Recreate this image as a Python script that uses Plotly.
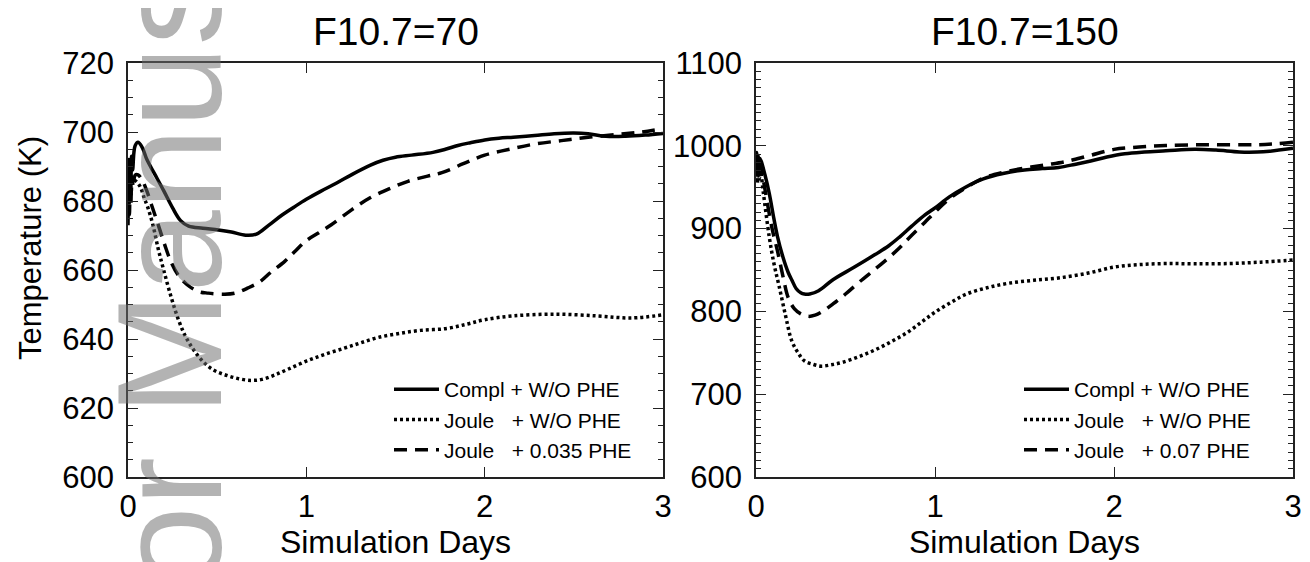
import plotly.graph_objects as go

# ---------------- data ----------------
# F10.7 = 70 panel
days_70_compl = [0, 0.004, 0.008, 0.012, 0.016, 0.02, 0.026, 0.033, 0.04, 0.056, 0.08, 0.106, 0.15, 0.2,
                 0.25, 0.295, 0.34, 0.42, 0.507, 0.58, 0.66, 0.72, 0.79, 0.86, 0.93, 1.0, 1.08, 1.17, 1.26, 1.36,
                 1.43, 1.5, 1.59, 1.71, 1.78, 1.85, 1.92, 2.0, 2.08, 2.16, 2.28, 2.39, 2.5, 2.58, 2.68, 2.79, 2.9, 3.0]
temp_70_compl = [686, 692, 681, 690, 684, 693, 689, 694, 696, 697, 695.5, 692, 687.8, 683, 678, 674.3, 672.7,
                 672.1, 671.6, 671.0, 670.1, 670.4, 673, 675.8, 678.2, 680.5, 682.8, 685.2, 687.8, 690.4, 691.8,
                 692.7, 693.3, 694.1, 695.0, 696.1, 696.9, 697.7, 698.2, 698.5, 699.0, 699.5, 699.7, 699.5, 698.75,
                 698.75, 699.1, 699.6]

days_70_joule = [0, 0.004, 0.008, 0.012, 0.018, 0.025, 0.035, 0.05, 0.07, 0.09, 0.112, 0.14, 0.17, 0.2, 0.24, 0.28,
                 0.32, 0.366, 0.42, 0.48, 0.55, 0.62, 0.69, 0.75, 0.82, 0.9, 1.0, 1.1, 1.21, 1.3, 1.4, 1.52, 1.64,
                 1.78, 1.9, 2.0, 2.16, 2.39, 2.63, 2.82, 3.0]
temp_70_joule = [679, 686, 680, 687, 682, 686, 686, 685.5, 684, 681, 678, 673, 666, 660, 652.5, 646, 641, 637, 633.5,
                 631, 629.5, 628.5, 628.0, 628.3, 629.5, 631.3, 633.6, 635.5, 637.3, 638.8, 640.4, 641.6, 642.5,
                 643.0, 644.3, 645.6, 646.7, 647.2, 646.7, 646.1, 647.0]

days_70_phe = [0, 0.004, 0.008, 0.012, 0.016, 0.022, 0.03, 0.04, 0.056, 0.08, 0.105, 0.131, 0.17, 0.206, 0.24, 0.28,
               0.33, 0.393, 0.45, 0.542, 0.6, 0.673, 0.74, 0.8, 0.879, 0.94, 1.0, 1.07, 1.14, 1.25, 1.36, 1.477,
               1.57, 1.68, 1.76, 1.88, 2.0, 2.14, 2.28, 2.43, 2.58, 2.75, 2.88, 3.0]
temp_70_phe = [673, 684, 676, 686, 679, 687, 684, 687.5, 687.6, 686, 683, 679, 673, 667.3, 662.5, 658.6, 655.8, 653.8,
               653.3, 653.0, 653.3, 654.8, 656.6, 659.3, 662.5, 665.6, 668.5, 670.8, 673.1, 677.3, 681, 683.8,
               685.7, 687.2, 688.2, 690.8, 693.3, 695, 696.5, 697.5, 698.5, 699.3, 700.0, 701]

# F10.7 = 150 panel
days_150_compl = [0, 0.004, 0.008, 0.012, 0.016, 0.02, 0.028, 0.05, 0.074, 0.1, 0.12, 0.15, 0.18, 0.2, 0.225, 0.25,
                  0.27, 0.3, 0.35, 0.43, 0.55, 0.665, 0.74, 0.805, 0.87, 0.944, 1.0, 1.08, 1.17, 1.27, 1.38, 1.5,
                  1.6, 1.69, 1.78, 1.87, 1.96, 2.06, 2.17, 2.29, 2.45, 2.57, 2.7, 2.8, 2.87, 3.0]
temp_150_compl = [975, 992, 965, 988, 970, 985, 982, 965, 942.6, 912, 890.4, 866, 847, 838, 827.4, 822.5, 820.9,
                  821, 825, 838.3, 853.5, 868.7, 879, 890.4, 903, 916.5, 925, 938.3, 950, 960, 966.5, 970.9, 972.5,
                  973.9, 977.5, 981.7, 986.5, 990.4, 992.5, 993.9, 995.7, 994.8, 992.6, 992.5, 993.5, 997]

days_150_joule = [0, 0.004, 0.008, 0.012, 0.018, 0.025, 0.04, 0.074, 0.1, 0.13, 0.165, 0.2, 0.235, 0.27, 0.32,
                  0.364, 0.42, 0.48, 0.57, 0.665, 0.76, 0.85, 0.93, 1.0, 1.09, 1.175, 1.29, 1.41, 1.55, 1.69, 1.85,
                  2.0, 2.14, 2.29, 2.45, 2.64, 2.82, 3.0]
temp_150_joule = [965, 985, 955, 980, 960, 970, 945, 890, 858, 829.6, 795, 764.3, 750, 740.4, 736, 733.9, 735.5,
                  738.3, 745, 753.5, 764, 775.2, 788, 799, 811, 820.9, 828.5, 834, 837.5, 840.4, 846, 853.5, 856.5,
                  857.8, 857.5, 857.8, 859.5, 862]

days_150_phe = [0, 0.004, 0.008, 0.012, 0.018, 0.025, 0.04, 0.06, 0.09, 0.12, 0.15, 0.18, 0.215, 0.25, 0.295, 0.33,
                0.364, 0.43, 0.5, 0.58, 0.665, 0.74, 0.805, 0.87, 0.944, 1.0, 1.08, 1.17, 1.27, 1.38, 1.5, 1.62,
                1.73, 1.86, 2.0, 2.14, 2.29, 2.52, 2.8, 2.9, 3.0]
temp_150_phe = [970, 988, 960, 985, 965, 978, 960, 935, 900, 873, 843, 816.5, 803, 797, 794, 795.5, 799, 809, 821,
                836, 851, 864.5, 877.4, 892, 907.8, 920, 936, 949, 961, 968, 973, 977, 980.9, 988, 995.7, 998.5,
                1000.4, 1001.3, 1001.3, 1002.5, 1004.3]

panel_titles = ["F10.7=70", "F10.7=150"]
y_title = "Temperature (K)"
x_title = "Simulation Days"
names_70 = ["Compl\u00a0+ W/O PHE", "Joule\u00a0\u00a0\u00a0+ W/O PHE", "Joule\u00a0\u00a0\u00a0+ 0.035 PHE"]
names_150 = ["Compl\u00a0+ W/O PHE", "Joule\u00a0\u00a0\u00a0+ W/O PHE", "Joule\u00a0\u00a0\u00a0+ 0.07 PHE"]
x_ticks = [0, 1, 2, 3]
y_range_70 = [600, 720]
y_range_150 = [600, 1100]

# ---------------- figure ----------------
FONT = "Liberation Sans, Arial, Helvetica, sans-serif"
LW = 3.5
styles = [dict(color="black", width=LW, dash="solid"),
          dict(color="black", width=LW, dash="3px,3px"),
          dict(color="black", width=LW, dash="13px,8px")]

fig = go.Figure()

series_70 = [(days_70_compl, temp_70_compl), (days_70_joule, temp_70_joule), (days_70_phe, temp_70_phe)]
series_150 = [(days_150_compl, temp_150_compl), (days_150_joule, temp_150_joule), (days_150_phe, temp_150_phe)]

for (xs, ys), nm, st in zip(series_70, names_70, styles):
    fig.add_trace(go.Scatter(x=xs, y=ys, mode="lines", name=nm, line=st, line_shape="spline",
                             xaxis="x", yaxis="y", legend="legend"))
for (xs, ys), nm, st in zip(series_150, names_150, styles):
    fig.add_trace(go.Scatter(x=xs, y=ys, mode="lines", name=nm, line=st, line_shape="spline",
                             xaxis="x2", yaxis="y2", legend="legend2"))

W, H = 1310, 562
ML, MR, MT, MB = 120, 25, 55, 93
PW, PH = W - ML - MR, H - MT - MB


def px_x(p):
    return (p - ML) / PW


def px_y(p):
    return (H - MB - p) / PH


axis_common = dict(showline=True, linecolor="#222", linewidth=1.5, mirror="ticks", ticks="inside",
                   tickcolor="#222", tickwidth=1.3, ticklen=10, showgrid=False, zeroline=False,
                   tickfont=dict(family=FONT, size=31, color="black"), automargin=False)

xaxis_common = dict(axis_common, range=[0, 3], tickvals=x_ticks, ticklabelstandoff=1,
                    title=dict(text=x_title, font=dict(family=FONT, size=32, color="black"),
                               standoff=8))

legend_common = dict(xanchor="left", yanchor="top", bgcolor="rgba(0,0,0,0)",
                     font=dict(family=FONT, size=21, color="black"), tracegroupgap=0, itemwidth=45)

fig.update_layout(
    width=W, height=H,
    margin=dict(l=ML, r=MR, t=MT, b=MB),
    paper_bgcolor="white", plot_bgcolor="white",
    font=dict(family=FONT, color="black"),
    xaxis=dict(xaxis_common, domain=[0, px_x(655)], anchor="y"),
    xaxis2=dict(xaxis_common, domain=[px_x(748), 1], anchor="y2"),
    yaxis=dict(axis_common, domain=[0, 1], anchor="x", range=y_range_70, tick0=600, dtick=20,
               ticklabelstandoff=6,
               minor=dict(ticks="inside", dtick=5, ticklen=5, tickwidth=1.2, tickcolor="#222", showgrid=False)),
    yaxis2=dict(axis_common, domain=[0, 1], anchor="x2", range=y_range_150, tick0=600, dtick=100,
                ticklabelstandoff=6,
                minor=dict(ticks="inside", dtick=10, ticklen=5, tickwidth=1.2, tickcolor="#222", showgrid=False)),
    legend=dict(legend_common, x=px_x(381), y=px_y(361)),
    legend2=dict(legend_common, x=px_x(1011), y=px_y(361)),
    showlegend=True,
)

# panel titles
for txt, cx in zip(panel_titles, [387.5, 1016.5]):
    fig.add_annotation(text=txt, xref="paper", yref="paper", x=px_x(cx), y=px_y(24),
                       xanchor="center", yanchor="middle", showarrow=False,
                       font=dict(family=FONT, size=39, color="black"))

# y-axis title (placed slightly above the panel centre, as in the reference)
fig.add_annotation(text=y_title, xref="paper", yref="paper", x=px_x(22), y=px_y(240),
                   xanchor="center", yanchor="middle", showarrow=False, textangle=-90,
                   font=dict(family=FONT, size=31, color="black"))

# watermark
fig.add_annotation(text="Author Manuscript", xref="paper", yref="paper", x=px_x(161), y=px_y(285),
                   xanchor="center", yanchor="middle", showarrow=False, textangle=-90,
                   font=dict(family=FONT, size=148, color="rgba(110,110,110,0.52)"))

fig.write_html("out.html")
